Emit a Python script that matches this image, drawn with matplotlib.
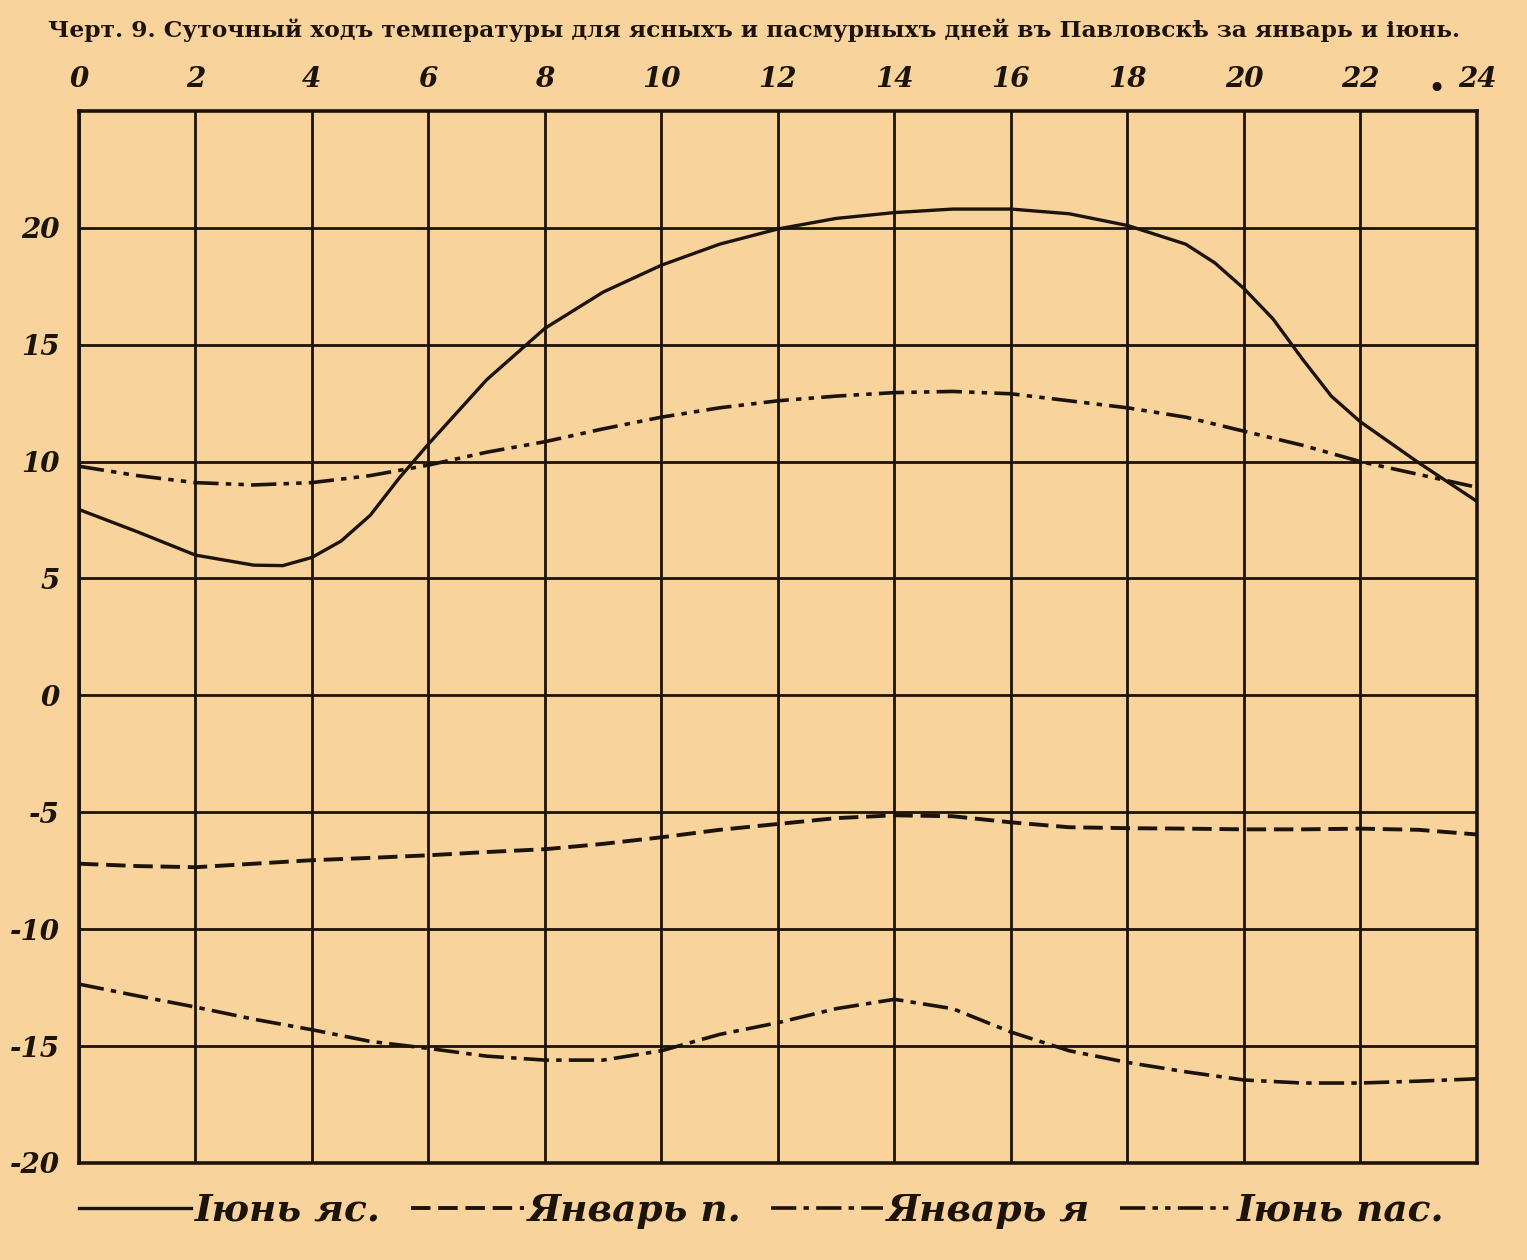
import numpy as np
import matplotlib.pyplot as plt

# hours of the day and temperatures (°C)
hours = [0, 1, 2, 3, 4, 5, 6, 7, 8, 9, 10, 11, 12,
         13, 14, 15, 16, 17, 18, 19, 20, 21, 22, 23, 24]

hours_june_clear = [0, 1, 2, 3, 3.5, 4, 4.5, 5, 5.5, 6, 7, 8, 9, 10, 11, 12,
                    13, 14, 15, 16, 17, 18, 18.5, 19, 19.5, 20, 20.5, 21,
                    21.5, 22, 23, 24]
june_clear = [7.95, 7.0, 6.0, 5.57, 5.55, 5.9, 6.6, 7.7, 9.3, 10.75, 13.5,
              15.7, 17.25, 18.4, 19.3, 19.95, 20.4, 20.65, 20.8, 20.8, 20.6,
              20.1, 19.7, 19.3, 18.5, 17.4, 16.1, 14.4, 12.8, 11.7, 9.95, 8.3]

june_cloudy = [9.8, 9.4, 9.1, 9.0, 9.1, 9.4, 9.85, 10.4, 10.85, 11.4, 11.9,
               12.3, 12.6, 12.8, 12.95, 13.0, 12.9, 12.6, 12.3, 11.9, 11.3,
               10.7, 10.0, 9.45, 8.9]

jan_cloudy = [-7.2, -7.3, -7.35, -7.2, -7.05, -6.95, -6.84, -6.7, -6.58,
              -6.35, -6.07, -5.75, -5.5, -5.25, -5.13, -5.17, -5.43, -5.64,
              -5.68, -5.7, -5.73, -5.73, -5.7, -5.75, -5.95]

jan_clear = [-12.35, -12.85, -13.33, -13.85, -14.3, -14.8, -15.1, -15.43,
             -15.6, -15.6, -15.2, -14.5, -14.0, -13.4, -13.0, -13.4, -14.4,
             -15.2, -15.7, -16.1, -16.45, -16.58, -16.58, -16.5, -16.4]

x_ticks = list(range(0, 25, 2))
x_labels = ["0", "2", "4", "6", "8", "10", "12", "14", "16", "18", "20", "22", "24"]
y_ticks = [-20, -15, -10, -5, 0, 5, 10, 15, 20]
y_labels = ["-20", "-15", "-10", "-5", "0", "5", "10", "15", "20"]

title = ("Черт. 9. Суточный ходъ температуры для ясныхъ и пасмурныхъ "
         "дней въ Павловскѣ за январь и іюнь.")

paper = "#f9d39c"
ink = "#1c130b"

fig = plt.figure(figsize=(15.27, 12.6), dpi=100, facecolor=paper)
ax = fig.add_axes([0.0517, 0.077, 0.9155, 0.835])
ax.set_facecolor(paper)

ax.plot(hours_june_clear, june_clear, color=ink, lw=2.4, ls="-", label="Іюнь яс.")
ax.plot(hours, jan_cloudy, color=ink, lw=2.8, ls=(0, (5, 2)), label="Январь п.")
ax.plot(hours, jan_clear, color=ink, lw=2.6, ls=(0, (7, 2, 1.5, 2)), label="Январь я")
ax.plot(hours, june_cloudy, color=ink, lw=2.6, ls=(0, (7, 2, 1.5, 2, 1.5, 2)),
        label="Іюнь пас.")

ax.set_xlim(0, 24)
ax.set_ylim(-20, 25)
ax.set_xticks(x_ticks)
ax.set_xticklabels(x_labels)
ax.set_yticks(y_ticks)
ax.set_yticklabels(y_labels)
ax.xaxis.tick_top()
ax.tick_params(length=0, colors=ink, labelsize=20)
ax.tick_params(axis="x", pad=13)
ax.tick_params(axis="y", pad=14)
for lab in ax.get_xticklabels() + ax.get_yticklabels():
    lab.set_fontfamily("DejaVu Serif")
    lab.set_fontstyle("italic")
    lab.set_fontweight("bold")

ax.grid(True, color=ink, lw=2.0)
for s in ax.spines.values():
    s.set_color(ink)
    s.set_linewidth(2.6)

# small dot before the 24 label at the top
ax.text(23.3, 25.9, "•", ha="center", va="center",
        fontsize=22, color=ink, clip_on=False)

fig.text(0.494, 0.976, title, ha="center", va="center", fontsize=16.8,
         fontweight="bold", family="DejaVu Serif", color=ink)

leg = ax.legend(loc="center left", bbox_to_anchor=(0.0, -0.045), ncol=4,
                frameon=False, handlelength=3.0, handletextpad=0.1,
                columnspacing=0.8, borderaxespad=0, borderpad=0,
                prop={"family": "DejaVu Serif", "style": "italic",
                      "weight": "bold", "size": 27})
for t in leg.get_texts():
    t.set_color(ink)

fig.savefig("out.png", dpi=100, facecolor=paper)
